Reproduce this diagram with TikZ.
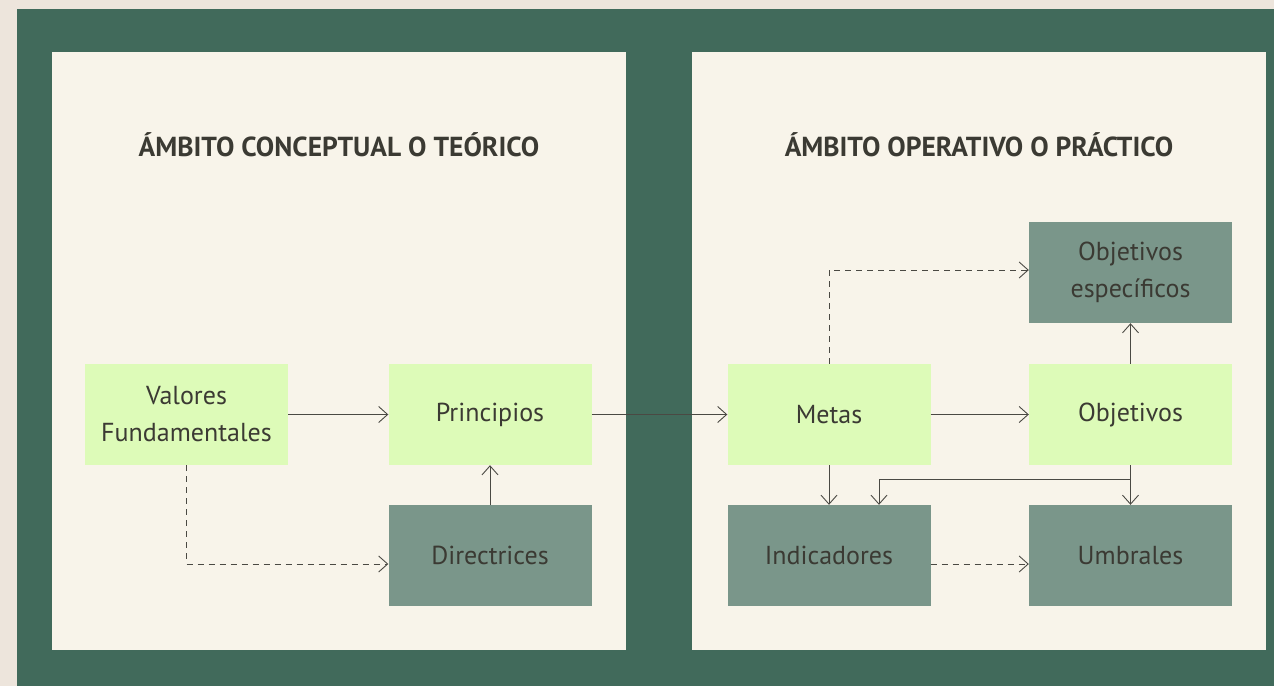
\documentclass[tikz,border=0pt]{standalone}
\usepackage{fontspec}
\setmainfont{PT Sans}
\usetikzlibrary{arrows.meta}
\definecolor{bgout}{HTML}{EDE5DC}
\definecolor{frame}{HTML}{416A5B}
\definecolor{panel}{HTML}{F8F4EA}
\definecolor{lgreen}{HTML}{DDFBB8}
\definecolor{ggreen}{HTML}{7A968A}
\definecolor{ink}{HTML}{3B3A33}
\definecolor{wire}{HTML}{4A4943}
\tikzset{
  box/.style={inner sep=0pt, minimum width=203pt, minimum height=101pt, align=center, text=ink, font=\fontsize{26}{37}\selectfont},
  lbox/.style={box, fill=lgreen},
  gbox/.style={box, fill=ggreen},
  ttl/.style={text=ink, font=\fontsize{27.5}{32}\selectfont\bfseries},
  conn/.style={draw=wire, line width=0.9pt, -{Straight Barb[length=9pt,width=16pt,line width=0.9pt]}},
  dconn/.style={conn, dash pattern=on 6pt off 5pt},
}
\begin{document}
\begin{tikzpicture}[x=1pt,y=-1pt]
\useasboundingbox (0,0) rectangle (1274,686);
\fill[bgout] (0,0) rectangle (1274,686);
\fill[frame] (17,9) rectangle (1274,686);
\fill[panel] (52,52) rectangle (626,650);
\fill[panel] (692,52) rectangle (1266,650);
\node[ttl] (t1) at (339,145) {ÁMBITO CONCEPTUAL O TEÓRICO};
\node[ttl] (t2) at (979,145) {ÁMBITO OPERATIVO O PRÁCTICO};
\node[lbox] (val) at (186.5,414.5) {Valores\\Fundamentales};
\node[lbox] (pri) at (490,414.5) {Principios};
\node[gbox] (dir) at (490,555.5) {Directrices};
\node[lbox] (met) at (829,414.5) {Metas};
\node[lbox] (obj) at (1130.5,414.5) {Objetivos};
\node[gbox] (esp) at (1130.5,272.5) {Objetivos\\específicos};
\node[gbox] (ind) at (829,555.5) {Indicadores};
\node[gbox] (umb) at (1130.5,555.5) {Umbrales};
\coordinate (vd) at (186.5,564);
\coordinate (mu) at (829,270);
\coordinate (br) at (1130.5,479);
\coordinate (ib) at (879,479);
\draw[conn] (val.east |- 0,414.5) -- (pri.west |- 0,414.5);
\draw[dconn] (val.south) -- (vd) -- (dir.west |- vd);
\draw[conn] (dir.north) -- (pri.south);
\draw[conn] (pri.east) -- (met.west);
\draw[conn] (met.east) -- (obj.west);
\draw[dconn] (met.north) -- (mu) -- (esp.west |- mu);
\draw[conn] (obj.north) -- (esp.south);
\draw[conn] (met.south) -- (ind.north);
\draw[conn] (obj.south) -- (umb.north);
\draw[conn] (br) -- (ib) -- (ib |- ind.north);
\draw[dconn] (ind.east |- vd) -- (umb.west |- vd);
\end{tikzpicture}
\end{document}
